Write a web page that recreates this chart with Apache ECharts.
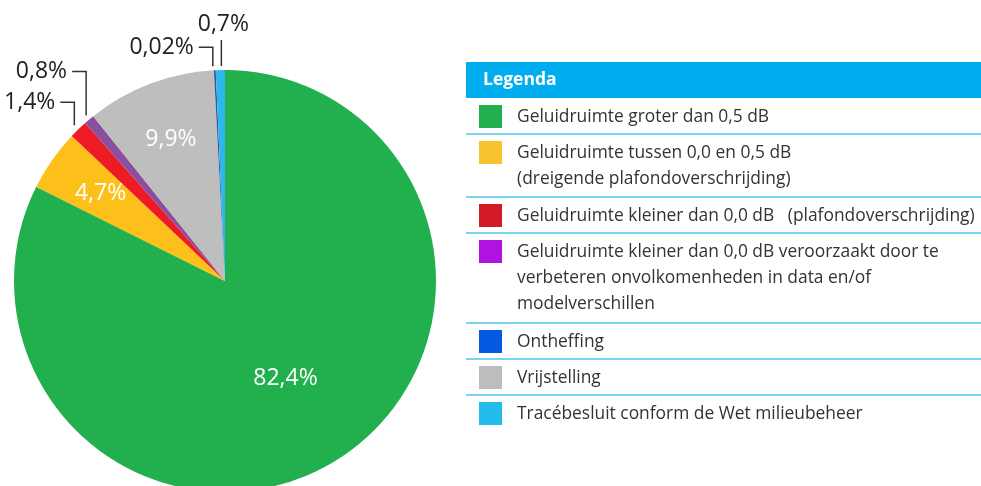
<!DOCTYPE html>
<html>
<head>
<meta charset="utf-8">
<script src="https://cdn.jsdelivr.net/npm/echarts@6/dist/echarts.min.js"></script>
<style>
  html, body { margin: 0; padding: 0; background: #fff; }
  #chart { width: 981px; height: 486px; }
</style>
</head>
<body>
<div id="chart"></div>
<script>
// slices, clockwise from 12 o'clock
const sliceNames = [
  'Geluidruimte groter dan 0,5 dB',
  'Geluidruimte tussen 0,0 en 0,5 dB',
  'Geluidruimte kleiner dan 0,0 dB',
  'Geluidruimte kleiner dan 0,0 dB veroorzaakt door te verbeteren onvolkomenheden',
  'Vrijstelling',
  'Ontheffing',
  'Tracébesluit conform de Wet milieubeheer'
]
const sliceValues = [82.4, 4.7, 1.4, 0.8, 9.9, 0.02, 0.7]
const sliceColors = ['#22b04f', '#fdc01b', '#ed1c24', '#8a4f9e', '#bebebe', '#3454a4', '#2cb8ec']

// legend (its own order and swatch colours)
const legendTitle = 'Legenda'
const legendTexts = [
  'Geluidruimte groter dan 0,5 dB',
  'Geluidruimte tussen 0,0 en 0,5 dB\n(dreigende plafondoverschrijding)',
  'Geluidruimte kleiner dan 0,0 dB   (plafondoverschrijding)',
  'Geluidruimte kleiner dan 0,0 dB veroorzaakt door te\nverbeteren onvolkomenheden in data en/of\nmodelverschillen',
  'Ontheffing',
  'Vrijstelling',
  'Tracébesluit conform de Wet milieubeheer'
]
const legendColors = ['#22b04f', '#f8c22c', '#d21b26', '#b013df', '#0459e0', '#bdbdbd', '#23bcec']

const fmt = v => String(v).replace('.', ',') + '%'

const insideIdx = [0, 1, 4]
// push inside labels further out from the centre
const insideScale = { 0: 1.06, 1: 1.4, 4: 1.4 }
// elbow label lines for the thin slices
const elbow = {
  2: { dx: -4, dy: -27 },
  3: { dx: -3, dy: -48 },
  5: { dx: -2, dy: -23 },
  6: { dx: 1, dy: -30, top: true }
}

const cx = 225, cy = 281

const chart = echarts.init(document.getElementById('chart'))

// legend drawn as graphic rows
const graphics = []
const boxX = 466, boxW = 515
graphics.push({ type: 'rect', shape: { x: boxX, y: 62, width: boxW, height: 36 }, style: { fill: '#00aeef' } })
graphics.push({
  type: 'text', x: 483, y: 80,
  style: { text: legendTitle, fill: '#fff', font: 'bold 17.5px "Open Sans"', verticalAlign: 'middle' }
})
let rowTop = 98
legendTexts.forEach((t, i) => {
  const lines = t.split('\n').length
  const h = 36 + (lines - 1) * 27
  graphics.push({ type: 'rect', shape: { x: 479, y: rowTop + 7, width: 23, height: 23 }, style: { fill: legendColors[i] } })
  graphics.push({
    type: 'text', x: 517, y: rowTop + 6,
    style: { text: t, fill: '#333', font: '17.4px "Open Sans"', lineHeight: 26, verticalAlign: 'top' }
  })
  rowTop += h
  if (i < legendTexts.length - 1) {
    graphics.push({
      type: 'line', shape: { x1: boxX, y1: rowTop, x2: boxX + boxW, y2: rowTop },
      style: { stroke: '#52c4ef', lineWidth: 1.3 }
    })
  }
})

chart.setOption({
  animation: false,
  graphic: graphics,
  series: [{
    type: 'pie',
    center: [cx, cy],
    radius: 211,
    startAngle: 90,
    clockwise: true,
    minAngle: 0.5,
    avoidLabelOverlap: false,
    silent: true,
    data: sliceValues.map((v, i) => ({
      name: sliceNames[i],
      value: v,
      itemStyle: { color: sliceColors[i] },
      label: insideIdx.includes(i)
        ? { position: 'inside', color: '#fff' }
        : { position: 'outside', color: '#222' },
      labelLine: { show: !insideIdx.includes(i) }
    })),
    label: {
      formatter: p => fmt(p.value),
      fontFamily: 'Open Sans',
      fontSize: 23
    },
    labelLine: {
      lineStyle: { color: '#333', width: 1.5 }
    },
    labelLayout: p => {
      const i = p.dataIndex
      const r = p.labelRect
      if (insideIdx.includes(i)) {
        const lx = r.x + r.width / 2, ly = r.y + r.height / 2
        const k = insideScale[i]
        return { x: cx + (lx - cx) * k, y: cy + (ly - cy) * k, align: 'center', verticalAlign: 'middle' }
      }
      const e = elbow[i]
      const a = p.labelLinePoints[0]
      const x0 = a[0] + e.dx
      const y0 = a[1] - 4
      const ty = a[1] + e.dy
      if (e.top) {
        return {
          x: x0 + 2, y: ty - 4, align: 'center', verticalAlign: 'bottom',
          labelLinePoints: [[x0, y0], [x0, ty], [x0, ty]]
        }
      }
      return {
        x: x0 - 19, y: ty, align: 'right', verticalAlign: 'middle',
        labelLinePoints: [[x0, y0], [x0, ty], [x0 - 14, ty]]
      }
    }
  }]
})
</script>
</body>
</html>
